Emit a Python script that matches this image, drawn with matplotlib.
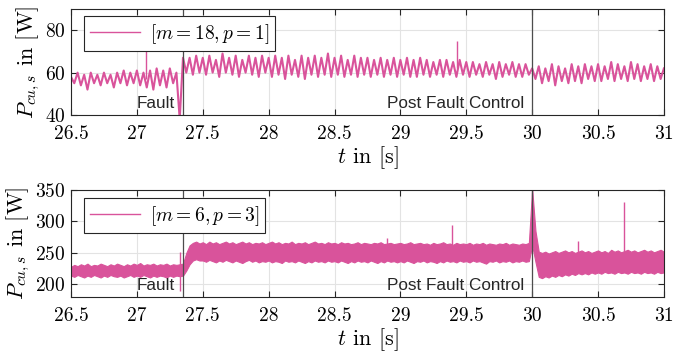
import numpy as np
import matplotlib
matplotlib.use('Agg')
import matplotlib.pyplot as plt
from matplotlib.lines import Line2D

plt.rcParams['font.family'] = 'serif'
plt.rcParams['font.serif'] = ['cmr10']
plt.rcParams['mathtext.fontset'] = 'cm'
plt.rcParams['axes.formatter.use_mathtext'] = True

# sample step of the read-off values [s]
dt = 0.025
t0 = 26.5

# upper plot: peaks / troughs of P_cu,s for [m=18, p=1], every 25 ms from 26.5 s
p_top = [
    58, 55, 60, 54, 59, 52, 60, 55, 59, 54, 60, 55, 59, 53, 60, 55, 61, 54, 60, 55,
    61, 54, 60, 53, 61, 52, 62, 54, 61, 53, 62, 55, 60, 38, 67, 60, 67, 59, 68, 60,
    67, 59, 68, 60, 66, 58, 69, 60, 67, 59, 68, 58, 66, 60, 68, 59, 67, 58, 68, 60,
    67, 58, 68, 59, 67, 57, 68, 59, 66, 58, 68, 57, 67, 59, 68, 58, 67, 59, 69, 58,
    67, 59, 68, 58, 66, 59, 68, 58, 67, 59, 67, 58, 66, 59, 67, 58, 66, 59, 67, 58,
    66, 59, 67, 58, 66, 58, 67, 59, 66, 58, 65, 59, 66, 58, 66, 59, 65, 58, 66, 59,
    65, 58, 65, 59, 64, 58, 65, 59, 64, 57, 65, 58, 64, 59, 65, 58, 64, 58, 64, 59,
    62, 57, 63, 55, 62, 56, 64, 54, 63, 56, 62, 55, 64, 56, 63, 55, 64, 57, 63, 56,
    64, 56, 63, 57, 65, 56, 64, 57, 63, 56, 65, 57, 64, 56, 63, 57, 64, 56, 63, 57, 62,
]
top_spike_t = [27.07, 29.43]
top_spike_lo = [57, 62]
top_spike_hi = [80, 75]

# lower plot: band of P_cu,s for [m=6, p=3], upper / lower edge every 25 ms
p_bot_hi = [
    228, 231, 229, 232, 230, 233, 229, 231, 230, 233, 231, 229, 232, 230, 233, 231, 229, 232, 230, 233,
    231, 234, 230, 232, 231, 233, 230, 232, 231, 233, 230, 232, 231, 232, 233, 250, 262, 266, 268, 265,
    267, 264, 268, 265, 267, 264, 266, 268, 265, 267, 264, 266, 268, 265, 267, 264, 266, 265, 267, 264,
    266, 268, 265, 267, 264, 266, 265, 268, 264, 266, 265, 267, 264, 266, 268, 265, 266, 264, 267, 265,
    266, 264, 267, 265, 266, 264, 265, 267, 264, 266, 265, 264, 266, 265, 267, 264, 265, 266, 264, 265,
    266, 264, 265, 267, 264, 265, 266, 264, 265, 263, 266, 264, 265, 267, 264, 265, 263, 266, 264, 265,
    264, 266, 263, 265, 264, 266, 263, 265, 264, 263, 265, 264, 266, 263, 265, 264, 263, 265, 264, 266,
    352, 285, 252, 250, 252, 249, 251, 253, 250, 252, 254, 251, 253, 250, 252, 254, 251, 253, 250, 252,
    254, 251, 253, 250, 255, 252, 254, 251, 253, 255, 252, 254, 251, 253, 255, 252, 254, 251, 253, 255, 252,
]
p_bot_lo = [
    214, 212, 215, 213, 211, 214, 212, 215, 213, 211, 214, 212, 215, 213, 212, 214, 211, 213, 215, 212,
    214, 212, 215, 213, 211, 214, 212, 214, 213, 211, 214, 212, 214, 213, 214, 222, 232, 238, 240, 238,
    238, 236, 239, 237, 235, 238, 236, 239, 237, 235, 238, 236, 234, 237, 239, 236, 238, 235, 237, 236,
    238, 235, 237, 236, 234, 238, 236, 237, 235, 238, 236, 234, 237, 235, 238, 236, 237, 235, 238, 236,
    237, 235, 238, 236, 234, 237, 235, 238, 236, 237, 235, 238, 236, 234, 237, 235, 238, 236, 237, 235,
    237, 235, 238, 236, 234, 237, 236, 238, 235, 237, 236, 234, 237, 235, 238, 236, 237, 235, 238, 236,
    237, 235, 238, 236, 237, 235, 233, 237, 236, 238, 235, 237, 236, 238, 235, 237, 236, 238, 236, 237,
    262, 236, 212, 210, 213, 211, 214, 212, 215, 213, 216, 214, 217, 215, 218, 216, 218, 216, 219, 217,
    219, 217, 220, 218, 219, 217, 220, 218, 219, 217, 220, 218, 219, 217, 220, 218, 219, 217, 220, 218, 219,
]
bot_spike_t = [27.33, 28.9, 29.39, 30.35, 30.7]
bot_spike_lo = [190, 250, 250, 235, 235]
bot_spike_hi = [252, 273, 294, 269, 331]

t_fault = 27.35
t_pfc = 30.0
xticks = [26.5, 27, 27.5, 28, 28.5, 29, 29.5, 30, 30.5, 31]

c = '#d9539b'
t_top = t0 + dt * np.arange(len(p_top))
t_bot = t0 + dt * np.arange(len(p_bot_hi))

fig = plt.figure(figsize=(6.73, 3.54), dpi=100)
ax1 = fig.add_axes([0.1055, 0.675, 0.881, 0.2996])
ax2 = fig.add_axes([0.1055, 0.161, 0.881, 0.3023])

ax1.plot(t_top, p_top, color=c, lw=1.5)
ax1.vlines(top_spike_t, top_spike_lo, top_spike_hi, color=c, lw=1)
ax1.set_ylim(40, 90)
ax1.set_yticks([40, 60, 80])

ax2.fill_between(t_bot, p_bot_lo, p_bot_hi, color=c, lw=0.8)
ax2.vlines(bot_spike_t, bot_spike_lo, bot_spike_hi, color=c, lw=1)
ax2.set_ylim(180, 350)
ax2.set_yticks([200, 250, 300, 350])

for ax, lab, anchor in [(ax1, r'$[m=18,p=1]$', (0.022, 0.934)),
                        (ax2, r'$[m=6,p=3]$', (0.022, 0.925))]:
    ax.set_xlim(26.5, 31)
    ax.set_xticks(xticks)
    ax.set_xticklabels(['%g' % v for v in xticks])
    ax.grid(True, color='#e3e3e3', lw=0.8)
    ax.set_axisbelow(True)
    ax.tick_params(direction='in', top=True, right=True, labelsize=14,
                   length=4, width=0.8, color='#262626', pad=4)
    ax.tick_params(axis='x', pad=7)
    for s in ax.spines.values():
        s.set_color('#262626')
        s.set_linewidth(0.8)
    ax.axvline(t_fault, color='#4d4d4d', lw=0.9)
    ax.axvline(t_pfc, color='#4d4d4d', lw=0.9)
    ax.text(t_fault - 0.06, 0.04, 'Fault', transform=ax.get_xaxis_transform(),
            ha='right', va='bottom', fontsize=12.3, family='Liberation Sans', color='#262626')
    ax.text(t_pfc - 0.06, 0.04, 'Post Fault Control', transform=ax.get_xaxis_transform(),
            ha='right', va='bottom', fontsize=12.3, family='Liberation Sans', color='#262626')
    ax.set_xlabel(r'$t$ in $[\mathrm{s}]$', fontsize=16, labelpad=1)
    ax.set_ylabel(r'$P_{cu,s}$ in $[\mathrm{W}]$', fontsize=16, labelpad=2)
    h = Line2D([], [], color=c, lw=1)
    leg = ax.legend([h], [lab], loc='upper left', bbox_to_anchor=anchor,
                    fontsize=14, handlelength=2.6, handletextpad=0.5, frameon=True,
                    fancybox=False, borderpad=0.3, borderaxespad=0.0)
    leg.get_frame().set_edgecolor('#262626')
    leg.get_frame().set_linewidth(0.8)
    leg.get_frame().set_alpha(1)

plt.savefig('out.png', dpi=100)
